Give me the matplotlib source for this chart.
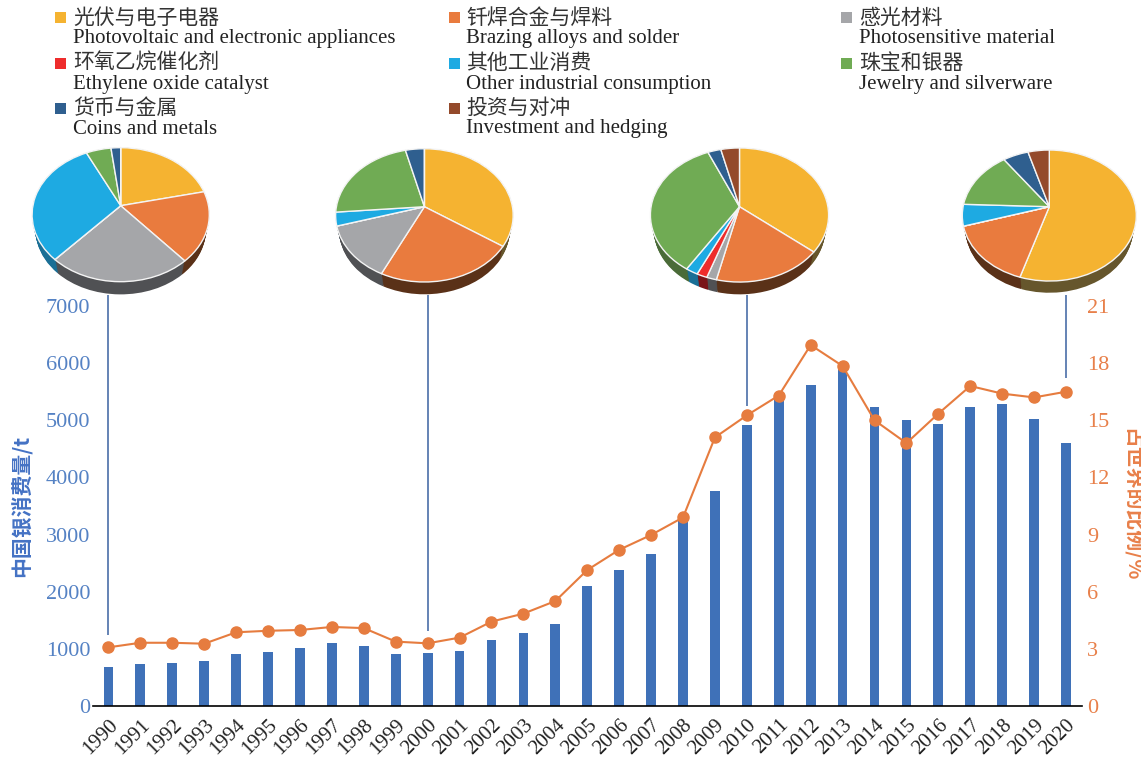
import matplotlib
matplotlib.use("Agg")
import matplotlib.pyplot as plt
from matplotlib.patches import Rectangle
from matplotlib.transforms import Affine2D, Transform
import numpy as np

years = list(range(1990, 2021))
consumption_t = [684, 737, 745, 795, 918, 953, 1012, 1111, 1053, 918, 924, 965,
                 1152, 1286, 1433, 2105, 2386, 2667, 3280, 3766, 4912, 5420,
                 5626, 5930, 5228, 5005, 4930, 5233, 5293, 5017, 4608]
world_share_pct = [3.08, 3.32, 3.32, 3.27, 3.87, 3.95, 3.99, 4.15, 4.09, 3.38, 3.29,
                   3.59, 4.43, 4.85, 5.51, 7.14, 8.2, 8.98, 9.9, 14.1, 15.26, 16.3,
                   18.95, 17.85, 15.0, 13.8, 15.35, 16.8, 16.4, 16.2, 16.5]

use_zh = ["光伏与电子电器", "钎焊合金与焊料", "感光材料", "环氧乙烷催化剂",
          "其他工业消费", "珠宝和银器", "货币与金属", "投资与对冲"]
use_en = ["Photovoltaic and electronic appliances", "Brazing alloys and solder",
          "Photosensitive material", "Ethylene oxide catalyst",
          "Other industrial consumption", "Jewelry and silverware",
          "Coins and metals", "Investment and hedging"]
use_colors = ["#f5b331", "#e97b3e", "#a5a6a9", "#ee2c2c",
              "#1eaae2", "#70ab54", "#2f5f8f", "#944a2b"]
wall_colors = ["#66562c", "#5a3118", "#505154", "#7a1418",
               "#1a6f96", "#4a6b38", "#1f3f60", "#5e2f1b"]

# Share of each end use, same order as use_zh
shares_1990 = [21.5, 17.1, 23.2, 0, 31.0, 5.2, 2.0, 0]
shares_2000 = [34.5, 22.6, 13.3, 0, 3.3, 22.4, 3.9, 0]
shares_2010 = [35.9, 17.8, 1.6, 1.7, 2.0, 34.5, 2.7, 3.8]
shares_2020 = [54.8, 15.5, 0, 0, 5.3, 14.5, 5.4, 4.5]

left_ticks = [0, 1000, 2000, 3000, 4000, 5000, 6000, 7000]
right_ticks = [0, 3, 6, 9, 12, 15, 18, 21]

connector_years = [1990, 2000, 2010, 2020]
connector_ends = [1243, 1318, 5254, 5744]

BLUE_TEXT = "#5582c4"
ORANGE_TEXT = "#e8804a"
SERIF = ["Liberation Serif", "Noto Sans CJK SC"]
CJK = ["Noto Sans CJK SC", "Liberation Serif"]
W, H = 1141, 757


class Foreshorten(Transform):
    """Perspective division that tilts a unit circle away from the viewer."""
    input_dims = 2
    output_dims = 2
    is_separable = False

    def __init__(self, k):
        super().__init__()
        self.k = k

    def transform_non_affine(self, values):
        values = np.asarray(values, dtype=float)
        return values / (1 + self.k * values[:, 1])[:, None]


fig = plt.figure(figsize=(W / 100, H / 100), dpi=100, facecolor="white")

# Bars and line share the lower panel
ax = fig.add_axes([93 / W, (H - 706) / H, 988.5 / W, 400 / H])
ax.bar(years, consumption_t, width=0.307, color="#3f71b8", zorder=2)
ax.set_xlim(1990 - 0.485, 2020 + 0.485)
ax.set_ylim(0, 7000)
ax.set_yticks(left_ticks)
ax.set_xticks(years)
ax.set_xticklabels(years, rotation=45, ha="right", rotation_mode="anchor",
                   family=SERIF, fontsize=15, color="#222222")
ax.tick_params(axis="x", length=0, pad=7)
ax.tick_params(axis="y", length=0, pad=2, labelcolor=BLUE_TEXT, labelsize=16)
for label in ax.get_yticklabels():
    label.set_family(SERIF)
for side in ("top", "left", "right"):
    ax.spines[side].set_visible(False)
ax.spines["bottom"].set_linewidth(1.2)
ax.spines["bottom"].set_color("black")
ax.spines["bottom"].set_zorder(5)

ax.vlines(connector_years, connector_ends, 7192, color="#3a62a0", lw=1.1,
          clip_on=False, zorder=1)

ax2 = ax.twinx()
ax2.plot(years, world_share_pct, color="#e67c3f", lw=1.5, marker="o", ms=8,
         clip_on=False, zorder=3)
ax2.set_ylim(0, 21)
ax2.set_yticks(right_ticks)
ax2.tick_params(axis="y", length=0, pad=4, labelcolor=ORANGE_TEXT, labelsize=16)
for label in ax2.get_yticklabels():
    label.set_family(SERIF)
for side in ("top", "left", "right", "bottom"):
    ax2.spines[side].set_visible(False)

# Overlay measured in pixels for the legend, titles and tilted pies
overlay = fig.add_axes([0, 0, 1, 1], facecolor="none")


def tilted_pie(shares, cx, cy, sx, sy, k, depth):
    """Draw a pie with a shaded side wall, tilted by perspective."""
    for t in np.linspace(1, 0, 14):
        f = 1 - 0.04 * t
        shift = t * (depth + 0.04 * sy / (1 - k))
        wedges, _ = overlay.pie(shares, colors=wall_colors, startangle=90,
                                counterclock=False)
        tr = (Foreshorten(k) + Affine2D().scale(sx * f, -sy * f).translate(cx, cy + shift)
              + overlay.transData)
        for w in wedges:
            w.set_transform(tr)
            w.set_linewidth(0)
    wedges, _ = overlay.pie(shares, colors=use_colors, startangle=90, counterclock=False,
                            wedgeprops={"edgecolor": "#f4f4f4", "linewidth": 1.0})
    tr = Foreshorten(k) + Affine2D().scale(sx, -sy).translate(cx, cy) + overlay.transData
    for w in wedges:
        w.set_transform(tr)


tilted_pie(shares_1990, 120.7, 205.7, 87.8, 65.8, 0.134, 12.7)
tilted_pie(shares_2000, 424.4, 206.7, 88.0, 65.5, 0.130, 12.3)
tilted_pie(shares_2010, 739.5, 206.7, 88.4, 66.0, 0.124, 12.3)
tilted_pie(shares_2020, 1049.3, 206.7, 86.2, 64.3, 0.135, 11.7)

overlay.set_aspect("auto")
overlay.set_xlim(0, W)
overlay.set_ylim(H, 0)
overlay.axis("off")

# Legend: three columns, Chinese name above the English one
legend_x = [55, 448.5, 841]
legend_y = [17.5, 63, 108]
for i, (zh, en, color) in enumerate(zip(use_zh, use_en, use_colors)):
    row, col = i // 3, i % 3
    x, y = legend_x[col], legend_y[row]
    overlay.add_patch(Rectangle((x, y - 5.5), 11, 11, color=color, lw=0))
    overlay.text(x + 18, y, zh, family=CJK, fontsize=15, color="#333333",
                 va="center", ha="left")
    overlay.text(x + 18, y + 21, en, family=SERIF, fontsize=15, color="#222222",
                 va="center", ha="left")

overlay.text(22, 506, "中国银消费量/t", family=CJK, fontsize=15, color="#4472c4",
             rotation=90, ha="center", va="center", weight="bold")
overlay.text(1131, 505, "占世界的比例/%", family=CJK, fontsize=15, color=ORANGE_TEXT,
             rotation=270, ha="center", va="center", weight="bold")

fig.savefig("out.png", dpi=100)
